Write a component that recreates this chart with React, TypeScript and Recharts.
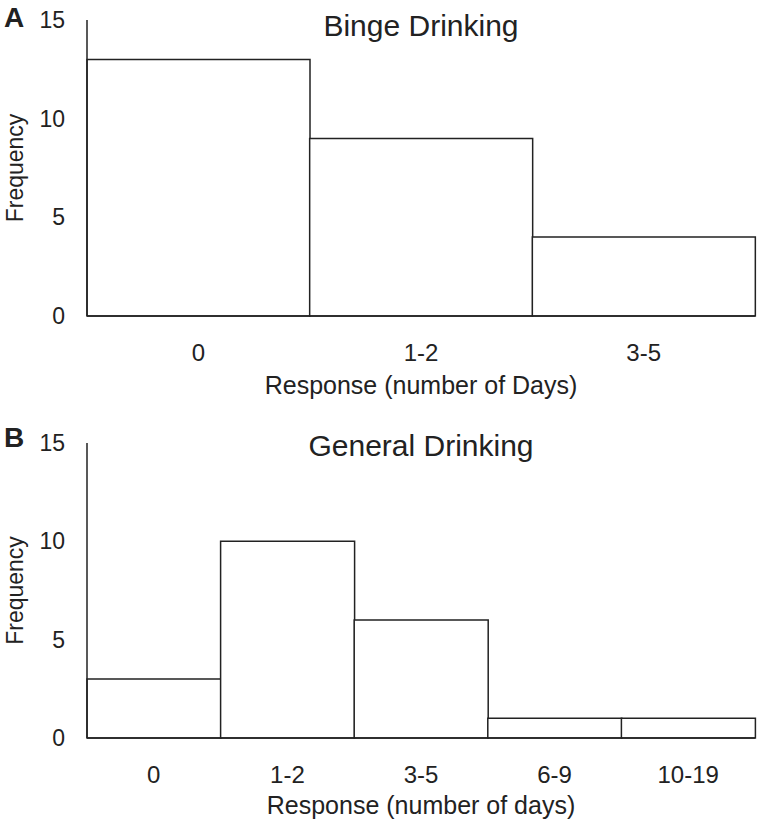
import { BarChart, Bar, XAxis, YAxis } from "recharts";

const bingeCategories = ["0", "1-2", "3-5"];
const bingeValues = [13, 9, 4];
const generalCategories = ["0", "1-2", "3-5", "6-9", "10-19"];
const generalValues = [3, 10, 6, 1, 1];
const yTicks = [0, 5, 10, 15];

const ink = "#222";
const font = "'Liberation Sans', Arial, sans-serif";

const bingeData = bingeCategories.map((cat, i) => ({ cat, value: bingeValues[i] }));
const generalData = generalCategories.map((cat, i) => ({ cat, value: generalValues[i] }));

interface PanelProps {
  data: { cat: string; value: number }[];
  height: number;
  top: number;
  bottom: number;
  xLabel: string;
}

function Panel({ data, height, top, bottom, xLabel }: PanelProps) {
  return (
    <BarChart
      width={760}
      height={height}
      data={data}
      margin={{ top, right: 5, left: 0, bottom: 0 }}
      barCategoryGap={0}
      barGap={0}
    >
      <XAxis
        dataKey="cat"
        height={bottom}
        axisLine={{ stroke: ink, strokeWidth: 1.5 }}
        tickLine={false}
        tickMargin={22}
        tick={{ fill: ink, fontSize: 24 }}
        interval={0}
        label={{ value: xLabel, position: "insideBottom", offset: 6, fill: ink, fontSize: 25 }}
      />
      <YAxis
        width={87}
        domain={[0, 15]}
        ticks={yTicks}
        axisLine={{ stroke: ink, strokeWidth: 1.5 }}
        tickLine={false}
        tickMargin={16}
        tick={{ fill: ink, fontSize: 23 }}
        label={{
          value: "Frequency",
          angle: -90,
          position: "insideLeft",
          offset: 15,
          fill: ink,
          fontSize: 23,
          style: { textAnchor: "middle" },
        }}
      />
      <Bar dataKey="value" fill="#fff" stroke={ink} strokeWidth={1.5} isAnimationActive={false} />
    </BarChart>
  );
}

export default function App() {
  return (
    <div style={{ position: "absolute", top: 0, left: 0, width: 760, height: 820, background: "#fff", fontFamily: font, color: ink }}>
      <div style={{ position: "relative", height: 400 }}>
        <Panel data={bingeData} height={400} top={20} bottom={84} xLabel="Response (number of Days)" />
        <div style={{ position: "absolute", left: 4, top: 2, fontSize: 28, fontWeight: "bold" }}>A</div>
        <div style={{ position: "absolute", left: 87, width: 668, top: 9, textAlign: "center", fontSize: 30 }}>
          Binge Drinking
        </div>
      </div>
      <div style={{ position: "relative", height: 420 }}>
        <Panel data={generalData} height={420} top={43} bottom={82} xLabel="Response (number of days)" />
        <div style={{ position: "absolute", left: 4, top: 22, fontSize: 28, fontWeight: "bold" }}>B</div>
        <div style={{ position: "absolute", left: 87, width: 668, top: 29, textAlign: "center", fontSize: 30 }}>
          General Drinking
        </div>
      </div>
    </div>
  );
}
